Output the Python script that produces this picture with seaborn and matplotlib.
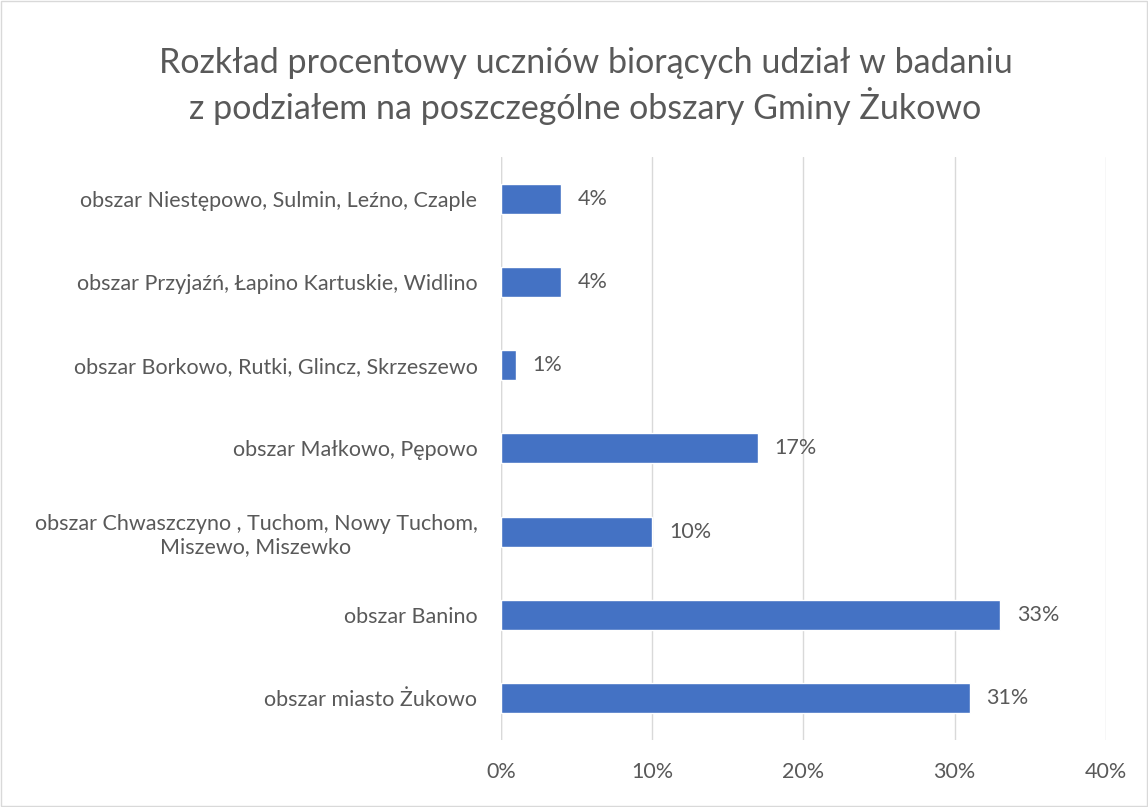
import matplotlib
matplotlib.use("Agg")
import matplotlib.pyplot as plt
import seaborn as sns
import pandas as pd
from matplotlib.patches import Rectangle

sns.set_style("white")
plt.rcParams['font.family'] = ['Lato', 'DejaVu Sans']

# data (top to bottom)
categories = [
    "obszar Niestępowo, Sulmin, Leźno, Czaple",
    "obszar Przyjaźń, Łapino Kartuskie, Widlino",
    "obszar Borkowo, Rutki, Glincz, Skrzeszewo",
    "obszar Małkowo, Pępowo",
    "obszar Chwaszczyno , Tuchom, Nowy Tuchom,\nMiszewo, Miszewko",
    "obszar Banino",
    "obszar miasto Żukowo",
]
percent = [4, 4, 1, 17, 10, 33, 31]
x_ticks = [0, 10, 20, 30, 40]

df = pd.DataFrame({"obszar": categories, "procent": percent})

text_col = "#595959"
bar_col = "#4472C4"
grid_col = "#D9D9D9"

fig = plt.figure(figsize=(11.48, 8.07), dpi=100)
ax = fig.add_axes([0.4364, 0.083, 0.527, 0.7225])

sns.barplot(data=df, x="procent", y="obszar", color=bar_col, width=0.36,
            saturation=1, ax=ax, orient="h")

ax.set_xlim(0, 40)
ax.set_xticks(x_ticks)
ax.set_xticklabels([f"{t}%" for t in x_ticks])
ax.xaxis.grid(True, color=grid_col, linewidth=1)
ax.set_axisbelow(True)
for s in ["top", "right", "bottom", "left"]:
    ax.spines[s].set_visible(False)
ax.axvline(0, color=grid_col, linewidth=1, zorder=0)
ax.set_xlabel("")
ax.set_ylabel("")
ax.tick_params(axis="both", length=0, labelsize=15.5, labelcolor=text_col)
ax.tick_params(axis="x", pad=16)
ax.tick_params(axis="y", pad=17)
for lbl in ax.get_yticklabels():
    lbl.set_multialignment("center")

ax.bar_label(ax.containers[0], labels=[f"{v}%" for v in percent],
             padding=12, fontsize=15.5, color=text_col)

fig.text(0.51, 0.894, "Rozkład procentowy uczniów biorących udział w badaniu\n"
         "z podziałem na poszczególne obszary Gminy Żukowo",
         ha="center", va="center", fontsize=24.5, color=text_col, linespacing=1.25)

fig.patches.append(Rectangle((0.001, 0.001), 0.998, 0.998, transform=fig.transFigure,
                             fill=False, edgecolor=grid_col, linewidth=1))

fig.savefig("out.png", dpi=100)
